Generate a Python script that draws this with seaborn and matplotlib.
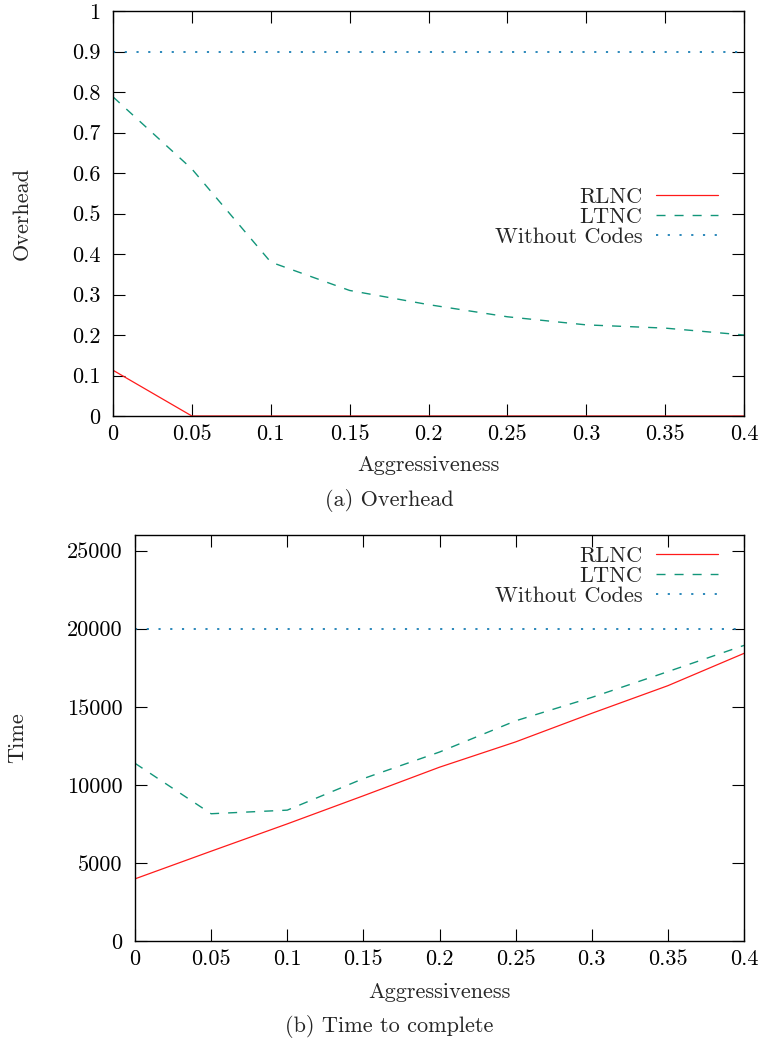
import matplotlib
matplotlib.use("Agg")
import matplotlib.pyplot as plt
import seaborn as sns
import pandas as pd

# ---- data ----
aggr = [0.0, 0.05, 0.1, 0.15, 0.2, 0.25, 0.3, 0.35, 0.4]
overhead_rlnc = [0.113, 0.0, 0.0, 0.0, 0.0, 0.0, 0.0, 0.0, 0.0]
overhead_ltnc = [0.788, 0.61, 0.38, 0.31, 0.275, 0.245, 0.225, 0.217, 0.2]
overhead_nocodes = [0.9] * 9
time_rlnc = [3980, 5750, 7500, 9300, 11130, 12750, 14580, 16350, 18420]
time_ltnc = [11380, 8150, 8380, 10400, 12100, 14100, 15600, 17250, 18930]
time_nocodes = [20000] * 9

series_names = ["RLNC", "LTNC", "Without Codes"]
x_ticks = [0, 0.05, 0.1, 0.15, 0.2, 0.25, 0.3, 0.35, 0.4]
x_ticklabels = ["0", "0.05", "0.1", "0.15", "0.2", "0.25", "0.3", "0.35", "0.4"]
y1_ticks = [0, 0.1, 0.2, 0.3, 0.4, 0.5, 0.6, 0.7, 0.8, 0.9, 1.0]
y1_ticklabels = ["0", "0.1", "0.2", "0.3", "0.4", "0.5", "0.6", "0.7", "0.8", "0.9", "1"]
y2_ticks = [0, 5000, 10000, 15000, 20000, 25000]
y2_ticklabels = ["0", "5000", "10000", "15000", "20000", "25000"]

sns.set_theme(style="white")
plt.rcParams["font.family"] = ["cmr10", "DejaVu Serif"]
plt.rcParams["axes.formatter.use_mathtext"] = True
plt.rcParams["mathtext.fontset"] = "cm"

FS = 16
colors = {"RLNC": "#ff1a1a", "LTNC": "#12967a", "Without Codes": "#1a7fb5"}
styles = {"RLNC": dict(linestyle="-", linewidth=0.9),
          "LTNC": dict(dashes=(6.5, 6.5), linewidth=1.0),
          "Without Codes": dict(dashes=(1.2, 5.3), linewidth=1.3)}

fig = plt.figure(figsize=(7.65, 10.4), dpi=100)
W, H = 765, 1040


def axes_px(l, t, r, b):
    return fig.add_axes([l / W, 1 - b / H, (r - l) / W, (b - t) / H])


ax1 = axes_px(113, 11, 744, 416)
ax2 = axes_px(135, 535, 744, 941)

panels = [
    (ax1, [overhead_rlnc, overhead_ltnc, overhead_nocodes], "Overhead",
     y1_ticks, y1_ticklabels, (0, 1), 187, (113, 11, 744, 416), 22, 465),
    (ax2, [time_rlnc, time_ltnc, time_nocodes], "Time",
     y2_ticks, y2_ticklabels, (0, 26000), 546, (135, 535, 744, 941), 17, 992),
]

for ax, vals, ylab, yt, ytl, ylim, leg_top, box, ylx, xly in panels:
    for name, v in zip(series_names, vals):
        df = pd.DataFrame({"x": aggr, "y": v})
        sns.lineplot(data=df, x="x", y="y", ax=ax, color=colors[name],
                     label=name, **styles[name])
    ax.set_xlim(0, 0.4)
    ax.set_ylim(*ylim)
    ax.set_xticks(x_ticks)
    ax.set_xticklabels(x_ticklabels)
    ax.set_yticks(yt)
    ax.set_yticklabels(ytl)
    ax.tick_params(axis="both", which="both", direction="in", length=8.5,
                   width=0.8, colors="black", labelsize=FS,
                   top=True, right=True, bottom=True, left=True)
    ax.tick_params(axis="x", pad=6)
    ax.tick_params(axis="y", pad=9)
    for s in ax.spines.values():
        s.set_color("black")
        s.set_linewidth(1.0)
    l, t, r, b = box
    ax.set_xlabel("Aggressiveness", fontsize=FS)
    ax.xaxis.label.set_va("center")
    ax.xaxis.set_label_coords(0.5, (b - xly) / (b - t))
    ax.set_ylabel(ylab, fontsize=FS)
    ax.yaxis.label.set_va("center")
    ax.yaxis.set_label_coords((ylx - l) / (r - l), 0.5)
    leg = ax.legend(loc="upper right", frameon=False, fontsize=FS,
                    markerfirst=False, handlelength=2.8, handletextpad=0.6,
                    labelspacing=0.02, borderpad=0, borderaxespad=0,
                    bbox_to_anchor=(718 / W, 1 - leg_top / H),
                    bbox_transform=fig.transFigure)

fig.text(389 / W, 1 - 500 / H, "(a) Overhead", ha="center", va="center",
         fontsize=FS)
fig.text(389 / W, 1 - 1027 / H, "(b) Time to complete", ha="center",
         va="center", fontsize=FS)

fig.savefig("out.png", dpi=100, facecolor="white")
